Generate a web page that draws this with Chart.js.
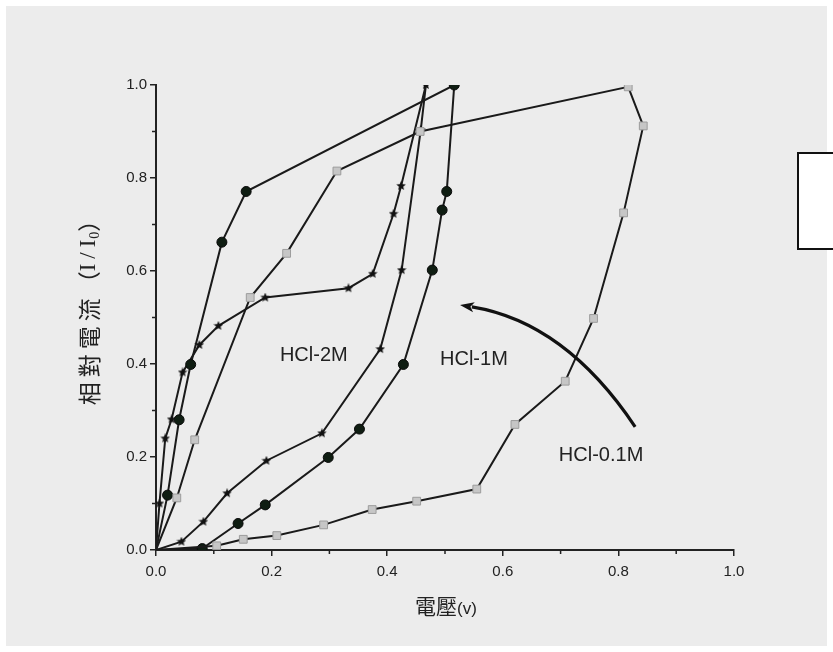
<!DOCTYPE html>
<html>
<head>
<meta charset="utf-8">
<script src="https://cdn.jsdelivr.net/npm/chart.js@4.4.1/dist/chart.umd.min.js"></script>
<style>
  html, body { margin: 0; padding: 0; background: #fff; }
  #wrap { width: 833px; height: 652px; }
</style>
</head>
<body>
<div id="wrap"><canvas id="chart" width="833" height="652"></canvas></div>
<script>
// HCl-2M (stars): rising branch then return branch
const hcl2mX = [0, 0.044, 0.082, 0.123, 0.191, 0.287, 0.388, 0.425, 0.458, 0.467, 0.424, 0.411, 0.375, 0.333, 0.189, 0.108, 0.075, 0.046, 0.027, 0.016, 0.006, 0];
const hcl2mY = [0, 0.018, 0.061, 0.122, 0.192, 0.251, 0.432, 0.602, 0.903, 1.0, 0.783, 0.723, 0.594, 0.563, 0.543, 0.482, 0.441, 0.382, 0.281, 0.240, 0.100, 0];

// HCl-1M (circles)
const hcl1mX = [0, 0.08, 0.142, 0.189, 0.298, 0.352, 0.428, 0.478, 0.495, 0.503, 0.516, 0.156, 0.114, 0.060, 0.040, 0.020, 0];
const hcl1mY = [0, 0.003, 0.057, 0.097, 0.199, 0.260, 0.399, 0.602, 0.731, 0.771, 1.0, 0.771, 0.662, 0.399, 0.280, 0.118, 0];

// HCl-0.1M (squares)
const hcl01mX = [0, 0.105, 0.151, 0.209, 0.290, 0.374, 0.451, 0.555, 0.621, 0.708, 0.757, 0.809, 0.843, 0.817, 0.457, 0.313, 0.226, 0.163, 0.067, 0.036, 0];
const hcl01mY = [0, 0.009, 0.023, 0.031, 0.054, 0.087, 0.105, 0.131, 0.270, 0.363, 0.498, 0.725, 0.912, 0.996, 0.900, 0.815, 0.638, 0.543, 0.237, 0.112, 0];

// axis ticks
const xTicks = [0, 0.2, 0.4, 0.6, 0.8, 1.0];
const yTicks = [0, 0.2, 0.4, 0.6, 0.8, 1.0];
const minorTicks = [0.1, 0.3, 0.5, 0.7, 0.9];

// text labels placed in data units
const seriesLabels = ['HCl-2M', 'HCl-1M', 'HCl-0.1M'];
const labelX = [0.273, 0.550, 0.770];
const labelY = [0.419, 0.409, 0.204];

// curved arrow: start, control, end (data units)
const arrowX = [0.829, 0.708, 0.526];
const arrowY = [0.265, 0.490, 0.527];

function toPoints(xs, ys) {
  return xs.map((x, i) => ({ x: x, y: ys[i] }));
}

// small filled star marker
function makeStar(size) {
  const c = document.createElement('canvas');
  c.width = size; c.height = size;
  const g = c.getContext('2d');
  const cx = size / 2, cy = size / 2, R = size / 2, r = R * 0.45;
  g.beginPath();
  for (let i = 0; i < 10; i++) {
    const a = -Math.PI / 2 + i * Math.PI / 5;
    const rad = i % 2 === 0 ? R : r;
    g.lineTo(cx + rad * Math.cos(a), cy + rad * Math.sin(a));
  }
  g.closePath();
  g.fillStyle = '#111';
  g.fill();
  return c;
}
const starImg = makeStar(10);

function hideAtOrigin(r) {
  return ctx => (ctx.raw && ctx.raw.x === 0 && ctx.raw.y === 0) ? 0 : r;
}

const decorPlugin = {
  id: 'decor',
  beforeDraw(chart) {
    const ctx = chart.ctx;
    ctx.save();
    ctx.fillStyle = '#fff';
    ctx.fillRect(0, 0, chart.width, chart.height);
    ctx.fillStyle = '#ececec';
    ctx.fillRect(6, 6, chart.width - 12, chart.height - 12);
    ctx.restore();
  },
  afterDraw(chart) {
    const ctx = chart.ctx;
    const xs = chart.scales.x, ys = chart.scales.y;
    const area = chart.chartArea;
    ctx.save();

    // minor ticks
    ctx.strokeStyle = '#222';
    ctx.lineWidth = 1.5;
    minorTicks.forEach(v => {
      const px = xs.getPixelForValue(v);
      ctx.beginPath(); ctx.moveTo(px, area.bottom); ctx.lineTo(px, area.bottom + 4); ctx.stroke();
      const py = ys.getPixelForValue(v);
      ctx.beginPath(); ctx.moveTo(area.left, py); ctx.lineTo(area.left - 4, py); ctx.stroke();
    });

    // series labels
    ctx.fillStyle = '#222';
    ctx.font = '20px "Liberation Sans", Arial, sans-serif';
    ctx.textAlign = 'center';
    ctx.textBaseline = 'middle';
    seriesLabels.forEach((t, i) => {
      ctx.fillText(t, xs.getPixelForValue(labelX[i]), ys.getPixelForValue(labelY[i]));
    });

    // curved arrow
    const p0 = [xs.getPixelForValue(arrowX[0]), ys.getPixelForValue(arrowY[0])];
    const p1 = [xs.getPixelForValue(arrowX[1]), ys.getPixelForValue(arrowY[1])];
    const p2 = [xs.getPixelForValue(arrowX[2]), ys.getPixelForValue(arrowY[2])];
    const ang = Math.atan2(p2[1] - p1[1], p2[0] - p1[0]);
    const headLen = 15;
    const baseX = p2[0] - headLen * 0.8 * Math.cos(ang), baseY = p2[1] - headLen * 0.8 * Math.sin(ang);
    ctx.strokeStyle = '#111';
    ctx.lineWidth = 3.2;
    ctx.beginPath();
    ctx.moveTo(p0[0], p0[1]);
    ctx.quadraticCurveTo(p1[0], p1[1], baseX, baseY);
    ctx.stroke();
    ctx.fillStyle = '#111';
    ctx.beginPath();
    ctx.moveTo(p2[0], p2[1]);
    ctx.lineTo(p2[0] - headLen * Math.cos(ang - 0.35), p2[1] - headLen * Math.sin(ang - 0.35));
    ctx.lineTo(p2[0] - headLen * 0.7 * Math.cos(ang), p2[1] - headLen * 0.7 * Math.sin(ang));
    ctx.lineTo(p2[0] - headLen * Math.cos(ang + 0.35), p2[1] - headLen * Math.sin(ang + 0.35));
    ctx.closePath();
    ctx.fill();

    // x axis title: 電壓(v)
    const cjk = '21px "Noto Sans CJK TC", "Noto Sans CJK SC", sans-serif';
    const lat = '17px "Liberation Sans", Arial, sans-serif';
    ctx.textAlign = 'left';
    ctx.textBaseline = 'alphabetic';
    ctx.font = cjk; const w1 = ctx.measureText('電壓').width;
    ctx.font = lat; const w2 = ctx.measureText('(v)').width;
    const sx = (area.left + area.right) / 2 - (w1 + w2) / 2 + 1;
    ctx.fillStyle = '#222';
    ctx.font = cjk; ctx.fillText('電壓', sx, 614);
    ctx.font = lat; ctx.fillText('(v)', sx + w1, 614);

    // y axis title: 相對電流(I/I0), characters spaced out
    const cjkY = '23px "Noto Sans CJK TC", "Noto Sans CJK SC", sans-serif';
    const serY = '23px "Liberation Serif", serif';
    const parts = [
      { t: '相', f: cjkY, dy: 0, gap: 5 },
      { t: '對', f: cjkY, dy: 0, gap: 5 },
      { t: '電', f: cjkY, dy: 0, gap: 5 },
      { t: '流', f: cjkY, dy: 0, gap: 4 },
      { t: '（', f: cjkY, dy: 0, gap: 0 },
      { t: 'I', f: serY, dy: 0, gap: 5 },
      { t: '/', f: serY, dy: 0, gap: 5 },
      { t: 'I', f: serY, dy: 0, gap: 1 },
      { t: '0', f: '14px "Liberation Serif", serif', dy: 6, gap: 0 },
      { t: '）', f: cjkY, dy: 0, gap: 0 }
    ];
    let total = 0;
    parts.forEach(p => { ctx.font = p.f; p.w = ctx.measureText(p.t).width; total += p.w + p.gap; });
    ctx.translate(89, 307);
    ctx.rotate(-Math.PI / 2);
    ctx.textBaseline = 'middle';
    let cx = -total / 2;
    parts.forEach(p => { ctx.font = p.f; ctx.fillText(p.t, cx, p.dy); cx += p.w + p.gap; });
    ctx.setTransform(1, 0, 0, 1, 0, 0);

    // legend box (cut off at right edge)
    ctx.fillStyle = '#fff';
    ctx.fillRect(798, 153, 60, 96);
    ctx.strokeStyle = '#111';
    ctx.lineWidth = 2;
    ctx.strokeRect(798, 153, 60, 96);

    ctx.restore();
  }
};

const ctx = document.getElementById('chart').getContext('2d');
const chart = new Chart(ctx, {
  type: 'scatter',
  data: {
    datasets: [
      {
        label: 'HCl-0.1M',
        data: toPoints(hcl01mX, hcl01mY),
        showLine: true,
        borderColor: '#1a1a1a',
        borderWidth: 2,
        pointStyle: 'rect',
        pointRadius: hideAtOrigin(5.5),
        pointBackgroundColor: '#c6c6c6',
        pointBorderColor: '#9c9c9c',
        pointBorderWidth: 1
      },
      {
        label: 'HCl-1M',
        data: toPoints(hcl1mX, hcl1mY),
        showLine: true,
        borderColor: '#1a1a1a',
        borderWidth: 2,
        pointStyle: 'circle',
        pointRadius: hideAtOrigin(5),
        pointBackgroundColor: '#0f1d12',
        pointBorderColor: '#0a0a0a',
        pointBorderWidth: 1
      },
      {
        label: 'HCl-2M',
        data: toPoints(hcl2mX, hcl2mY),
        showLine: true,
        borderColor: '#1a1a1a',
        borderWidth: 2,
        pointStyle: starImg,
        pointRadius: hideAtOrigin(5)
      }
    ]
  },
  options: {
    responsive: false,
    animation: false,
    layout: { padding: { top: 85, right: 99, left: 0, bottom: 0 } },
    plugins: {
      legend: { display: false },
      tooltip: { enabled: false }
    },
    scales: {
      x: {
        type: 'linear',
        min: 0,
        max: 1,
        afterFit: s => { s.height = 102; },
        afterBuildTicks: s => { s.ticks = xTicks.map(v => ({ value: v })); },
        ticks: {
          padding: 7,
          color: '#222',
          font: { family: '"Liberation Sans", Arial, sans-serif', size: 15 },
          callback: v => v.toFixed(1)
        },
        grid: { drawOnChartArea: false, color: '#222', lineWidth: 1.5, tickLength: 6 },
        border: { color: '#222', width: 2 }
      },
      y: {
        type: 'linear',
        min: 0,
        max: 1,
        afterFit: s => { s.width = 156; },
        afterBuildTicks: s => { s.ticks = yTicks.map(v => ({ value: v })); },
        ticks: {
          padding: 3,
          color: '#222',
          font: { family: '"Liberation Sans", Arial, sans-serif', size: 15 },
          callback: v => v.toFixed(1)
        },
        grid: { drawOnChartArea: false, color: '#222', lineWidth: 1.5, tickLength: 6 },
        border: { color: '#222', width: 2 }
      }
    }
  },
  plugins: [decorPlugin]
});
</script>
</body>
</html>
